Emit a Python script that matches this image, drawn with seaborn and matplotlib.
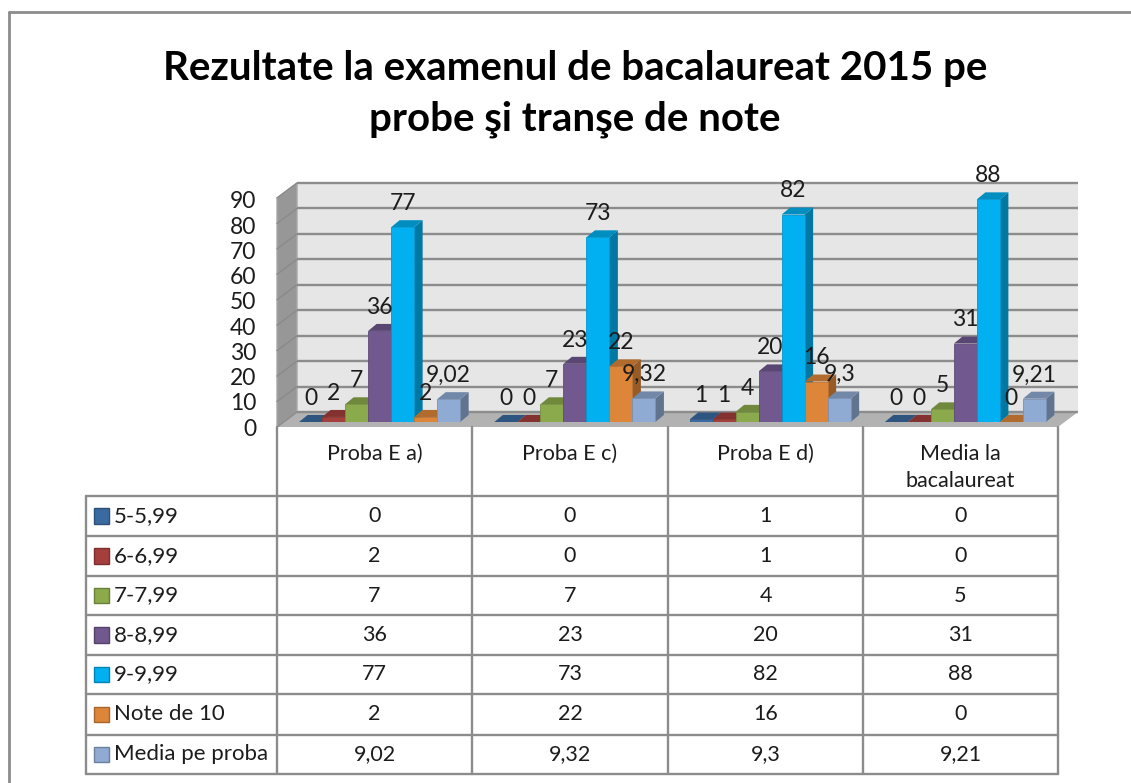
import numpy as np
import pandas as pd
import matplotlib
matplotlib.use("Agg")
import matplotlib.pyplot as plt
import matplotlib.colors as mc
from matplotlib.patches import Polygon, Rectangle
import seaborn as sb

# date din tabel
categorii = ["Proba E a)", "Proba E c)", "Proba E d)", "Media la bacalaureat"]
antet = ["Proba E a)", "Proba E c)", "Proba E d)", "Media la\nbacalaureat"]
transe = ["5-5,99", "6-6,99", "7-7,99", "8-8,99", "9-9,99", "Note de 10", "Media pe proba"]
v_5 = [0, 0, 1, 0]
v_6 = [2, 0, 1, 0]
v_7 = [7, 7, 4, 5]
v_8 = [36, 23, 20, 31]
v_9 = [77, 73, 82, 88]
v_10 = [2, 22, 16, 0]
v_media = [9.02, 9.32, 9.3, 9.21]
valori = [v_5, v_6, v_7, v_8, v_9, v_10, v_media]
culori = ["#3A6A9F", "#A53F3C", "#8BAA4B", "#71588F", "#00B0F0", "#DD8639", "#8FAAD3"]
titlu = "Rezultate la examenul de bacalaureat 2015 pe\nprobe şi tranşe de note"
y_ticks = list(range(0, 100, 10))

GRI = "#8C8C8C"
TEXT = "#1C1C1C"
W, H = 1131, 783
df = pd.DataFrame({"categorie": categorii})
for nume, v in zip(transe, valori):
    df[nume] = v
df = df.melt(id_vars="categorie", var_name="transa", value_name="valoare")


def fmt(v):
    return ("%g" % v).replace(".", ",")


def box(x0, y_top, x1, y_bot):
    # pixeli din imagine -> coordonate figura
    return [x0 / W, 1 - y_bot / H, (x1 - x0) / W, (y_bot - y_top) / H]


sb.set_theme(style="white")
plt.rcParams["font.family"] = ["Lato", "DejaVu Sans"]
fig = plt.figure(figsize=(W / 100, H / 100), dpi=100)

# fundal in pixeli: chenar, titlu, pereti, tabel
bg = fig.add_axes([0, 0, 1, 1])
bg.set_xlim(0, W)
bg.set_ylim(H, 0)
bg.axis("off")
bg.plot([9, W], [12, 12], color=GRI, lw=2)
bg.plot([9, 9], [12, H], color=GRI, lw=2)
bg.text(575, 94, titlu, ha="center", va="center", fontsize=29, fontweight="bold",
        color="black", linespacing=1.47)

fx0, fx1, fy0, fy1 = 277, 1058, 427, 198
dx, dy = 20, -15
bg.add_patch(Polygon([(fx0 + dx, fy1 + dy), (fx1 + dx, fy1 + dy), (fx1 + dx, fy0 + dy), (fx0 + dx, fy0 + dy)],
                     fc="#E6E6E6", ec="none"))
bg.add_patch(Polygon([(fx0, fy0), (fx0, fy1), (fx0 + dx, fy1 + dy), (fx0 + dx, fy0 + dy)],
                     fc="#979797", ec="#A8A8A8", lw=1))
bg.add_patch(Polygon([(fx0, fy0), (fx1, fy0), (fx1 + dx, fy0 + dy), (fx0 + dx, fy0 + dy)],
                     fc="#B2B2B2", ec="none"))
pas = (fy0 - fy1) / 90
for t in y_ticks:
    y = fy0 - t * pas
    bg.plot([fx0 + dx, fx1 + dx], [y + dy, y + dy], color=GRI, lw=1.7, solid_capstyle="butt")
    bg.plot([fx0, fx0 + dx], [y, y + dy], color="#8A8A8A", lw=1)

# tabelul
col_x = [277, 472, 668, 863, 1058]
rand_y = [496, 536, 576, 615, 655, 694, 735, 774]
for x in col_x:
    bg.plot([x, x], [427, 774], color=GRI, lw=1.7)
bg.plot([86, 86], [496, 774], color=GRI, lw=1.7)
for y in rand_y:
    bg.plot([86, 1058], [y, y], color=GRI, lw=1.7)
for i, a in enumerate(antet):
    bg.text((col_x[i] + col_x[i + 1]) / 2, 444, a, ha="center", va="top", fontsize=15.5,
            color=TEXT, linespacing=1.45)
for r, (nume, v, c) in enumerate(zip(transe, valori, culori)):
    ym = (rand_y[r] + rand_y[r + 1]) / 2
    bg.add_patch(Rectangle((94, ym - 8), 15, 15.5, fc=c, ec=mc.to_hex(np.array(mc.to_rgb(c)) * 0.75), lw=1))
    bg.text(114, ym, nume, ha="left", va="center", fontsize=16, color=TEXT)
    for i, val in enumerate(v):
        bg.text((col_x[i] + col_x[i + 1]) / 2, ym, fmt(val), ha="center", va="center",
                fontsize=15.5, color=TEXT)

# axa y (planul din fata)
ax_y = fig.add_axes(box(fx0, 200, fx1, fy0))
ax_y.patch.set_alpha(0)
ax_y.set_ylim(0, 90)
ax_y.set_yticks(y_ticks)
ax_y.set_xticks([])
ax_y.tick_params(axis="y", length=0, pad=15, labelsize=16.5, labelcolor=TEXT)
sb.despine(ax=ax_y, left=True, bottom=True)

# barele
ax = fig.add_axes(box(282, 422 - 90 * 2.53, 1063, 422))
ax.patch.set_alpha(0)
sb.barplot(data=df, x="categorie", y="valoare", hue="transa", order=categorii, hue_order=transe,
           palette=culori, saturation=1, width=0.825, gap=0, legend=False, errorbar=None, ax=ax)
ax.set_ylim(0, 90)
ax.axis("off")

adanc_x = 8.5 / (781 / 4)
adanc_y = 7 / 2.53
for serie, cont in enumerate(ax.containers):
    for p in cont.patches:
        x0, w, h = p.get_x(), p.get_width(), p.get_height()
        z = 3 + x0
        c = np.array(mc.to_rgb(p.get_facecolor()))
        p.set_zorder(z + 0.02)
        p.set_edgecolor(c * 0.85)
        p.set_linewidth(0.6)
        ax.add_patch(Polygon([(x0 + w, 0), (x0 + w + adanc_x, adanc_y), (x0 + w + adanc_x, h + adanc_y), (x0 + w, h)],
                             fc=c * 0.68, ec="none", zorder=z, clip_on=False))
        ax.add_patch(Polygon([(x0, h), (x0 + w, h), (x0 + w + adanc_x, h + adanc_y), (x0 + adanc_x, h + adanc_y)],
                             fc=c * 0.8, ec="none", zorder=z + 0.01, clip_on=False))
    et = ax.bar_label(cont, labels=[fmt(v) for v in valori[serie]], padding=9.5, fontsize=16.5,
                      color=TEXT, clip_on=False)
    for e in et:
        e.set_zorder(20)

fig.savefig("out.png", dpi=100)
